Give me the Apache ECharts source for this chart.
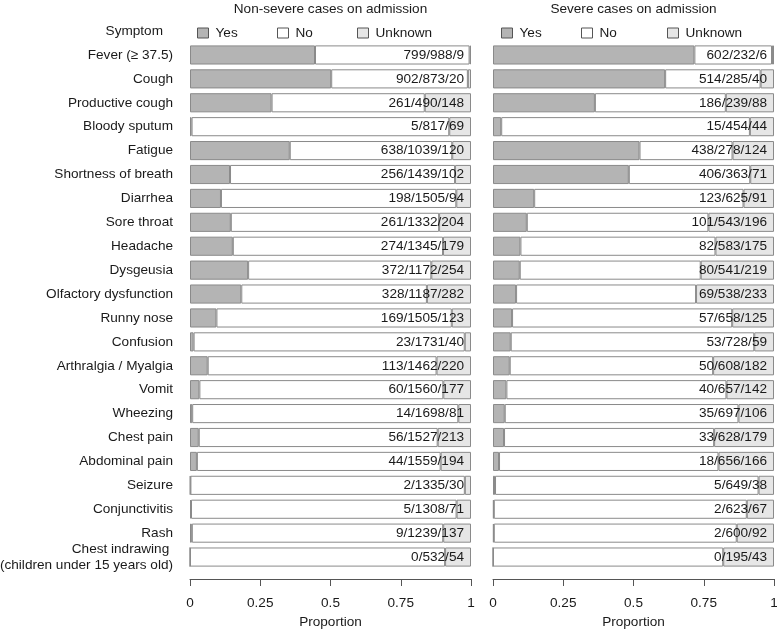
<!DOCTYPE html>
<html>
<head>
<meta charset="utf-8">
<script src="https://cdn.jsdelivr.net/npm/echarts@6/dist/echarts.min.js"></script>
<style>html,body{margin:0;padding:0;background:#fff;}#c{width:777px;height:629px;}</style>
</head>
<body>
<div id="c"></div>
<script>
var symptoms = ['Fever (\u2265 37.5)','Cough','Productive cough','Bloody sputum','Fatigue','Shortness of breath','Diarrhea','Sore throat','Headache','Dysgeusia','Olfactory dysfunction','Runny nose','Confusion','Arthralgia / Myalgia','Vomit','Wheezing','Chest pain','Abdominal pain','Seizure','Conjunctivitis','Rash','Chest indrawing \n(children under 15 years old)'];
var nsYes = [799,902,261,5,638,256,198,261,274,372,328,169,23,113,60,14,56,44,2,5,9,0];
var nsNo  = [988,873,490,817,1039,1439,1505,1332,1345,1172,1187,1505,1731,1462,1560,1698,1527,1559,1335,1308,1239,532];
var nsUnk = [9,20,148,69,120,102,94,204,179,254,282,123,40,220,177,81,213,194,30,71,137,54];
var sYes = [602,514,186,15,438,406,123,101,82,80,69,57,53,50,40,35,33,18,5,2,2,0];
var sNo  = [232,285,239,454,278,363,625,543,583,541,538,658,728,608,657,697,628,656,649,623,600,195];
var sUnk = [6,40,88,44,124,71,91,196,175,219,233,125,59,182,142,106,179,166,38,67,92,43];
var xTicks = [0, 0.25, 0.5, 0.75, 1];
var panelTitles = ['Non-severe cases on admission','Severe cases on admission'];
var legendNames = ['Yes','No','Unknown'];

var FONT = 'Liberation Sans, Arial, sans-serif';
var FS = 13.6;
var colors = {Yes:'#b4b4b4', No:'#ffffff', Unknown:'#e6e6e6'};
var border = '#8a8a8a';

function props(y,n,u){
  var out={y:[],n:[],u:[]};
  for(var i=0;i<y.length;i++){var t=y[i]+n[i]+u[i];out.y.push(y[i]/t);out.n.push(n[i]/t);out.u.push(u[i]/t);}
  return out;
}
var P = [props(nsYes,nsNo,nsUnk), props(sYes,sNo,sUnk)];
var C = [[nsYes,nsNo,nsUnk],[sYes,sNo,sUnk]];

var lefts=[190,493];
var grids=[],xAxes=[],yAxes=[],series=[],legends=[];
[0,1].forEach(function(p){
  grids.push({left:lefts[p],width:281,top:43,height:526,outerBoundsMode:'none'});
});
[0,1].forEach(function(p){
  grids.push({left:lefts[p],width:281,top:43,height:536,outerBoundsMode:'none'});
});
[0,1].forEach(function(p){
  xAxes.push({gridIndex:p,type:'value',min:0,max:1,interval:0.25,show:false,splitLine:{show:false}});
  yAxes.push({gridIndex:p,type:'category',inverse:true,data:symptoms,
    axisLine:{show:false},axisTick:{show:false},splitLine:{show:false},
    axisLabel:{show:p===0,interval:0,hideOverlap:false,showMinLabel:true,showMaxLabel:true,margin:17,fontFamily:FONT,fontSize:FS,color:'#1a1a1a',lineHeight:16}});
});
[0,1].forEach(function(p){
  xAxes.push({gridIndex:p+2,type:'value',min:0,max:1,interval:0.25,
    name:'Proportion',nameLocation:'middle',nameGap:33,
    nameTextStyle:{fontFamily:FONT,fontSize:FS,color:'#1a1a1a'},
    axisLine:{show:true,onZero:false,lineStyle:{color:'#555',width:1}},
    axisTick:{show:true,length:7,lineStyle:{color:'#555'}},
    axisLabel:{margin:17,fontFamily:FONT,fontSize:FS,color:'#1a1a1a',formatter:function(v){return String(v);}},
    splitLine:{show:false}});
  yAxes.push({gridIndex:p+2,type:'value',min:0,max:1,interval:1,show:false});
});
[0,1].forEach(function(p){
  var keys=['y','n','u'];
  legendNames.forEach(function(nm,k){
    var s={name:nm,type:'bar',stack:'s'+p,xAxisIndex:p,yAxisIndex:p,barWidth:'80%',
      data:P[p][keys[k]],
      itemStyle:{color:colors[nm],borderColor:border,borderWidth:1},
      emphasis:{disabled:true}};
    if(k===2){
      s.label={show:true,position:'insideRight',distance:7,fontFamily:FONT,fontSize:FS,color:'#1a1a1a',
        formatter:(function(pp){return function(prm){var i=prm.dataIndex;return C[pp][0][i]+'/'+C[pp][1][i]+'/'+C[pp][2][i];};})(p)};
    }
    series.push(s);
  });
});
var legX=[[197,277,357],[501,581,667]];
[0,1].forEach(function(p){
  legendNames.forEach(function(nm,k){
    legends.push({left:legX[p][k],top:26,padding:0,data:[nm],icon:'rect',itemWidth:11,itemHeight:10,itemGap:0,
      selectedMode:false,textStyle:{fontFamily:FONT,fontSize:FS,color:'#1a1a1a',padding:[0,0,0,2]},
      itemStyle:{borderColor:'#555',borderWidth:1}});
  });
});

var chart=echarts.init(document.getElementById('c'),null,{renderer:'canvas'});
chart.setOption({
  animation:false,
  backgroundColor:'#fff',
  grid:grids,xAxis:xAxes,yAxis:yAxes,series:series,legend:legends,
  graphic:[
    {id:'t1',type:'text',x:330.5,y:9,style:{text:panelTitles[0],font:FS+'px '+FONT,fill:'#1a1a1a',textAlign:'center',textVerticalAlign:'middle'}},
    {id:'t2',type:'text',x:633.5,y:9,style:{text:panelTitles[1],font:FS+'px '+FONT,fill:'#1a1a1a',textAlign:'center',textVerticalAlign:'middle'}},
    {id:'t3',type:'text',x:163,y:31,style:{text:'Symptom',font:FS+'px '+FONT,fill:'#1a1a1a',textAlign:'right',textVerticalAlign:'middle'}}
  ]
});
// axis baselines placed through the library's own scales
var extra=[];
[0,1].forEach(function(p){
  var x0=chart.convertToPixel({xAxisIndex:p+2},0);
  var x1=chart.convertToPixel({xAxisIndex:p+2},1);
  var y0=chart.convertToPixel({yAxisIndex:p+2},0);
  var yy=Math.round(y0)+0.5;
  extra.push({id:'base'+p,type:'line',silent:true,z:10,
    shape:{x1:Math.round(x0)+0.5,y1:yy,x2:Math.round(x1)+0.5,y2:yy},
    style:{stroke:'#555',lineWidth:1}});
});
chart.setOption({graphic:extra});
</script>
</body>
</html>
